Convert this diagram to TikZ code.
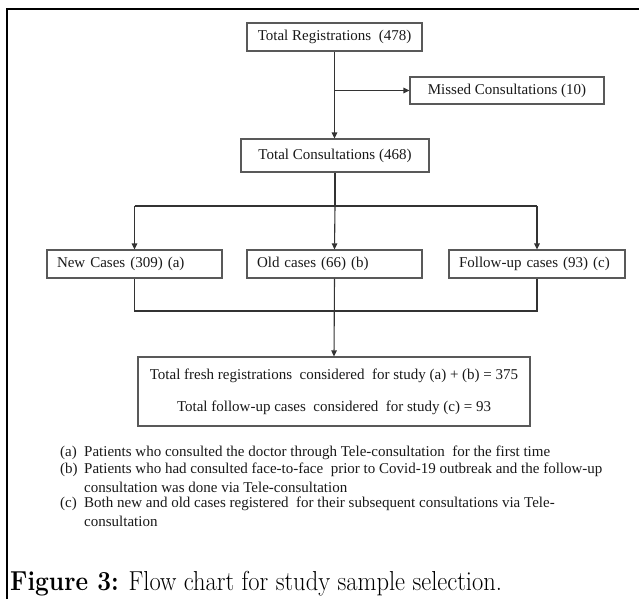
\documentclass[tikz,border=0pt]{standalone}
\usepackage{fontspec}
\setmainfont{Liberation Serif}
\newfontfamily\capfont{Latin Modern Roman}
\usepackage{graphicx}
\usetikzlibrary{arrows.meta}
\begin{document}
\begin{tikzpicture}[x=1pt,y=-1pt,
  font=\fontsize{15}{18}\selectfont,
  box/.style={draw=black!65, line width=1.1pt, fill=white, inner sep=0pt, text=black!90},
  lbox/.style={box, text width=#1, align=left},
  conn/.style={draw=black!80, line width=1.1pt},
  arr/.style={conn, -{Triangle[length=6pt,width=5.5pt]}},
  note/.style={inner sep=0pt, text=black!90, font=\fontsize{15}{18}\selectfont}
]
\useasboundingbox (0,0) rectangle (639,599);
\fill[white] (0,0) rectangle (639,599);
\draw[line width=2.6pt, black] (7,599) -- (7,9) -- (639,9);

\node[box, minimum width=175pt, minimum height=28pt] (reg) at (334.5,37) {Total Registrations~ (478)};
\node[box, minimum width=194pt, minimum height=27pt] (missed) at (507,90.5) {Missed Consultations (10)};
\node[box, minimum width=188pt, minimum height=33pt] (cons) at (335,155.5) {Total Consultations (468)};
\node[lbox=155pt, minimum width=175pt, minimum height=28pt] (newc) at (134.5,264) {New Cases (309) (a)};
\node[lbox=155pt, minimum width=175pt, minimum height=28pt] (old) at (334.5,264) {Old cases (66) (b)};
\node[lbox=156pt, minimum width=176pt, minimum height=28pt] (follow) at (537,264) {Follow-up cases (93) (c)};
\node[box, minimum width=392pt, minimum height=69pt, align=center] (tot) at (334,391.5)
  {Total fresh registrations~ considered~ for study (a) + (b) = 375\\[14pt]
   Total follow-up cases~ considered~ for study (c) = 93};

\draw[arr] (reg.south) -- (reg.south |- cons.north);
\coordinate (b1) at (reg.south |- missed.west);
\draw[arr] (b1) -- (missed.west);
\coordinate (j) at (cons.south |- 0,206);
\coordinate (jl) at (newc.north |- j);
\coordinate (jr) at (follow.north |- j);
\draw[conn] (cons.south) -- (j);
\draw[conn] (jl) -- (jr);
\draw[arr] (jl) -- (newc.north);
\draw[arr] (j) -- (old.north);
\draw[arr] (jr) -- (follow.north);
\coordinate (k) at (old.south |- 0,311);
\draw[conn] (newc.south) -- (newc.south |- k) -- (follow.south |- k) -- (follow.south);
\draw[arr] (old.south) -- (tot.north);

\node[note, anchor=west] (la) at (60,453) {(a)};
\node[note, anchor=west] (ta) at (84,453) {Patients who consulted the doctor through Tele-consultation~ for the first time};
\node[note, anchor=west] (lb) at (60,470) {(b)};
\node[note, anchor=west] (tb) at (84,470) {Patients who had consulted face-to-face~ prior to Covid-19 outbreak and the follow-up};
\node[note, anchor=west] (tb2) at (84,487) {consultation was done via Tele-consultation};
\node[note, anchor=west] (lc) at (60,504) {(c)};
\node[note, anchor=west] (tc) at (84,504) {Both new and old cases registered~ for their subsequent consultations via Tele-};
\node[note, anchor=west] (tc2) at (84,521) {consultation};

\node[anchor=base west, inner sep=0pt] (cap) at (10,590)
  {\scalebox{1}[1.12]{\capfont\fontsize{24.5}{28}\selectfont\textbf{Figure 3:} Flow chart for study sample selection.}};
\end{tikzpicture}
\end{document}
